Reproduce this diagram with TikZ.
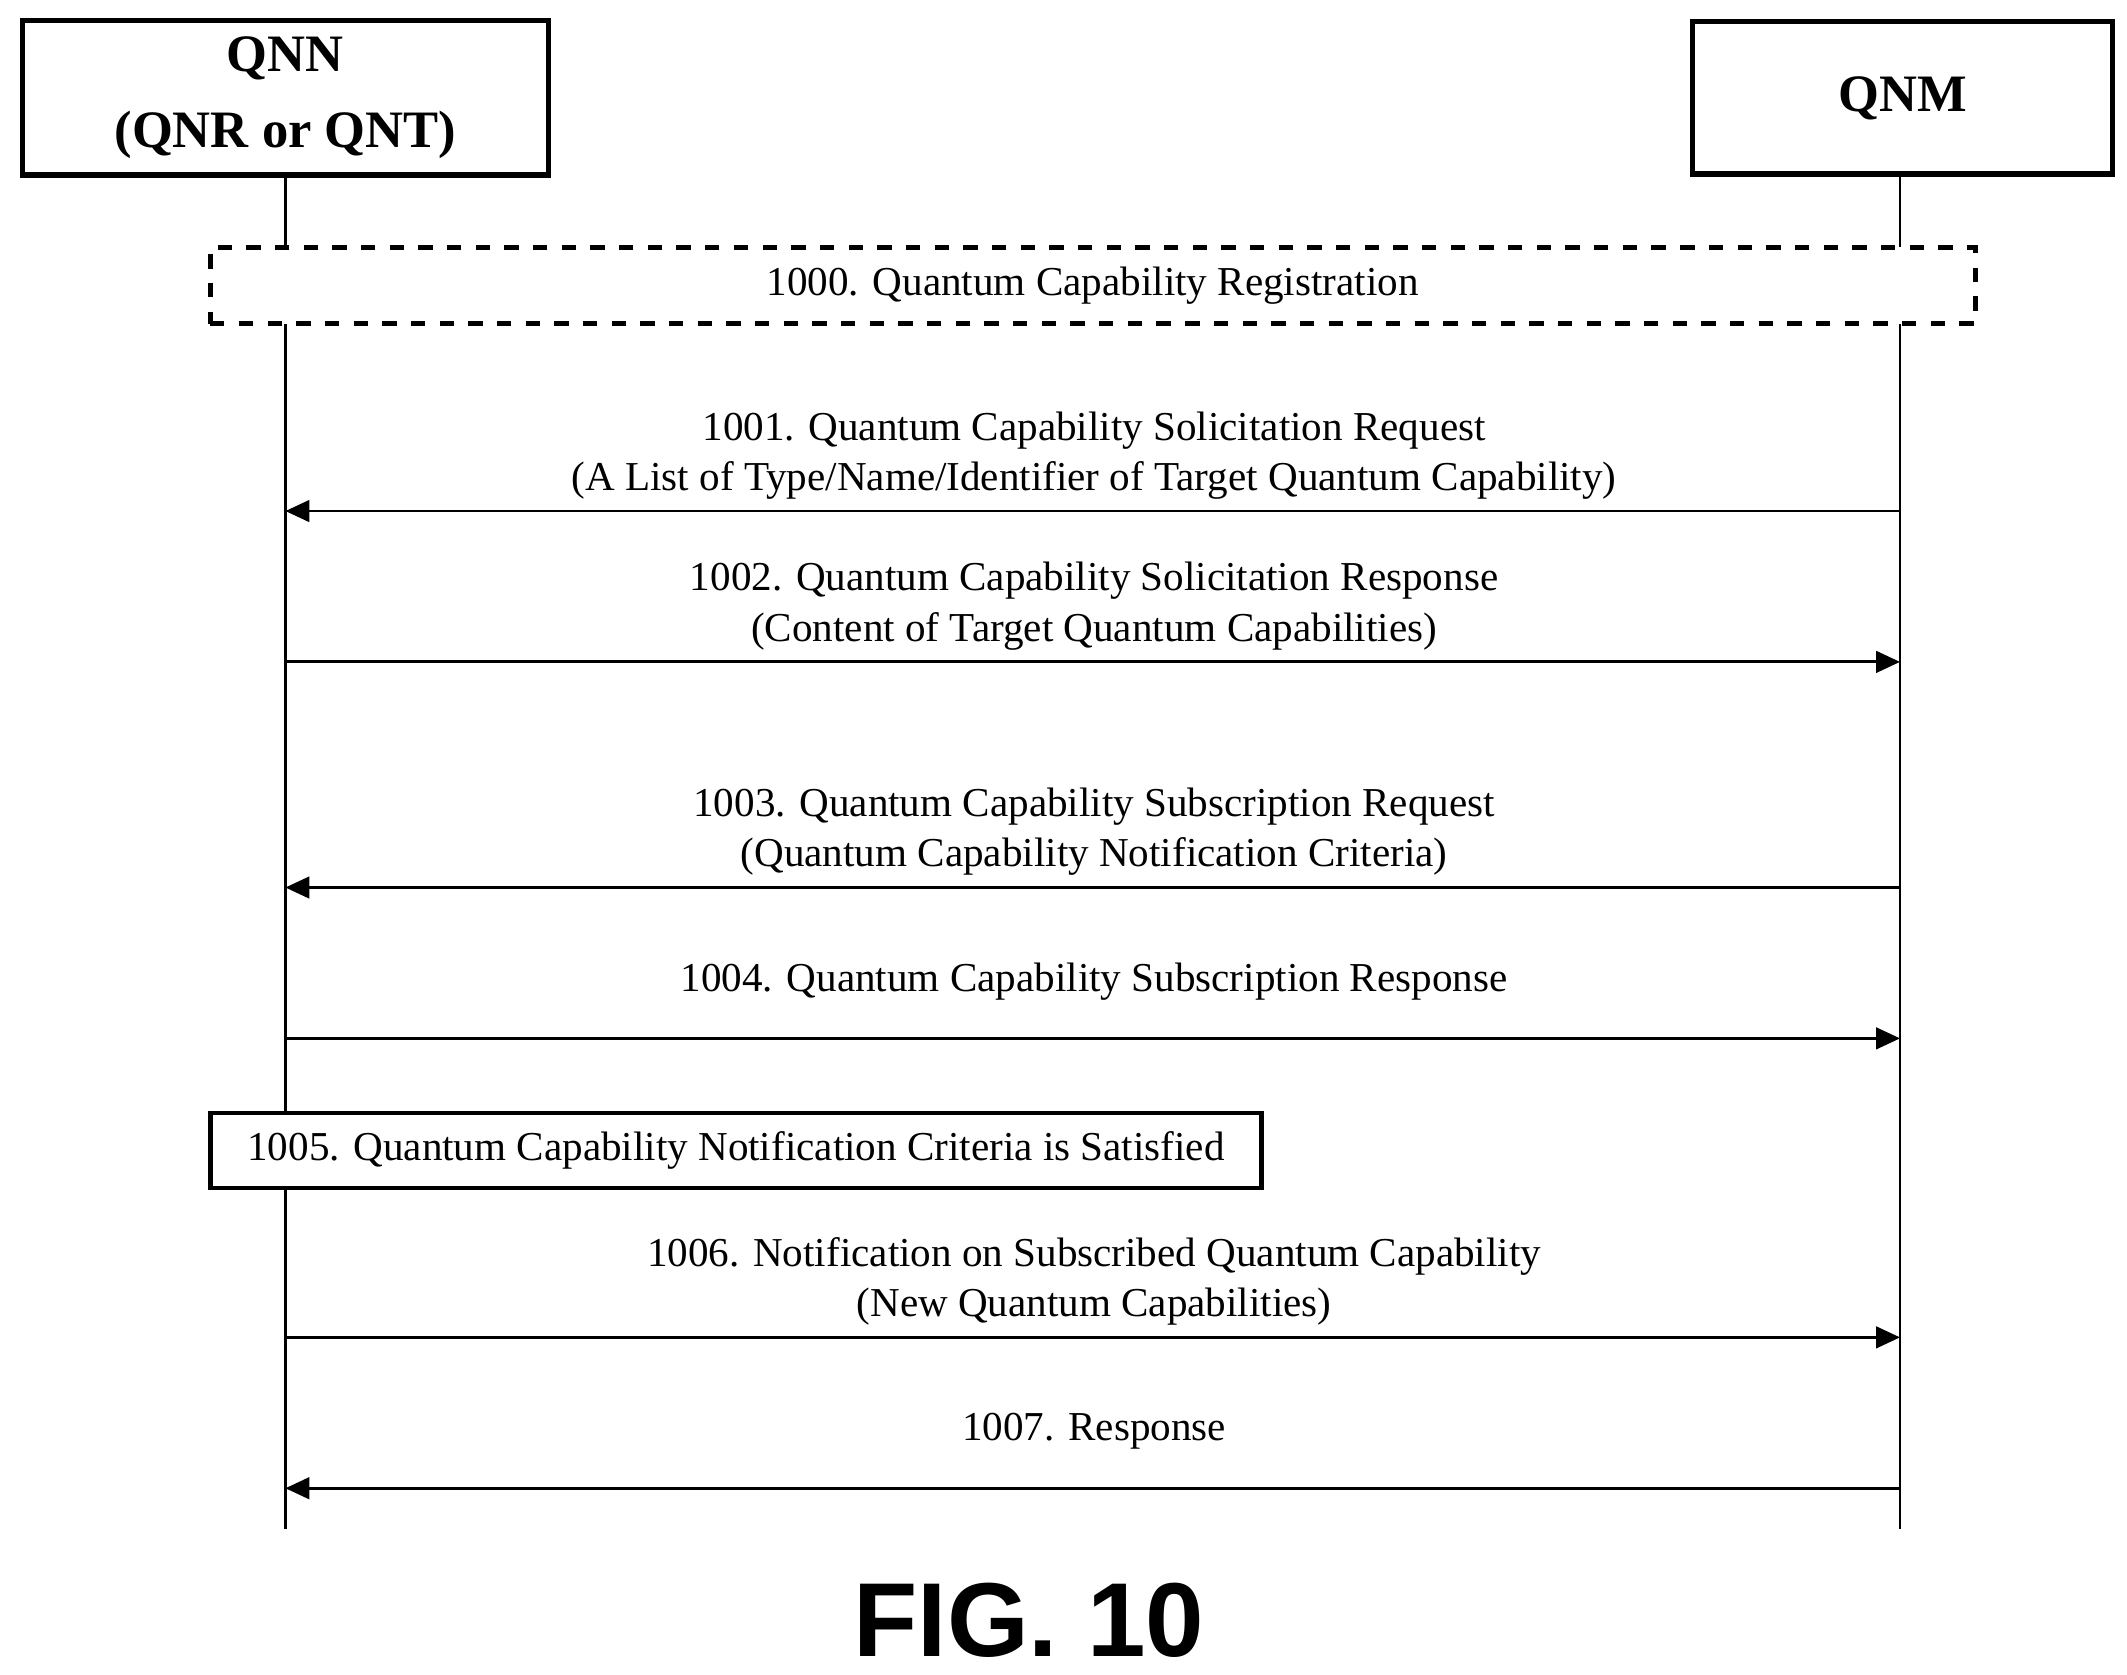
\documentclass[tikz,border=0pt]{standalone}
\usepackage{fontspec}
\setmainfont{Liberation Serif}
\newfontfamily\figfont{Liberation Sans}
\usetikzlibrary{arrows.meta}
\begin{document}
\begin{tikzpicture}[x=0.01cm,y=-0.01cm,
  ent/.style={draw,line width=1.1pt,minimum width=3.87cm,minimum height=1.12cm,align=center,font=\fontsize{11}{14}\selectfont\bfseries},
  msg/.style={-{Triangle[length=5pt,width=4.5pt]},line width=0.6pt},
  lbl/.style={font=\fontsize{8.6}{10.5}\selectfont,align=center}]
\useasboundingbox (0,0) rectangle (1565,1232);
\node[ent] (qnn) at (210,72) {QNN\\[2pt](QNR or QNT)};
\node[ent,minimum width=3.09cm] (qnm) at (1400,72) {QNM};
% lifelines
\coordinate (qnnTop) at (210,1125);
\coordinate (qnmTop) at (1398,1125);
\draw[line width=0.6pt] (qnn.south) -- (qnnTop);
\draw[line width=0.6pt] (qnm.south -| qnmTop) -- (qnmTop);
\node[draw,dashed,line width=1pt,fill=white,minimum width=12.98cm,minimum height=0.56cm,lbl] (reg) at (804,210) {1000. Quantum Capability Registration};
% messages
\foreach \n/\y/\dir in {a/376/l,b/487/r,c/653/l,d/764/r,e/984/r,f/1095/l}{
  \coordinate (L\n) at (210,\y);
  \coordinate (R\n) at (1398,\y);
}
\draw[msg] (Ra) -- (La);
\node[lbl] (ta) at (805,335) {1001. Quantum Capability Solicitation Request\\(A List of Type/Name/Identifier of Target Quantum Capability)};
\draw[msg] (Lb) -- (Rb);
\node[lbl] (tb) at (805,446) {1002. Quantum Capability Solicitation Response\\(Content of Target Quantum Capabilities)};
\draw[msg] (Rc) -- (Lc);
\node[lbl] (tc) at (805,612) {1003. Quantum Capability Subscription Request\\(Quantum Capability Notification Criteria)};
\draw[msg] (Ld) -- (Rd);
\node[lbl] (td) at (805,722) {1004. Quantum Capability Subscription Response};
\node[draw,line width=1pt,fill=white,minimum width=7.73cm,minimum height=0.55cm,lbl] (sat) at (541.5,846.5) {1005. Quantum Capability Notification Criteria is Satisfied};
\draw[msg] (Le) -- (Re);
\node[lbl] (te) at (805,943) {1006. Notification on Subscribed Quantum Capability\\(New Quantum Capabilities)};
\draw[msg] (Rf) -- (Lf);
\node[lbl] (tf) at (805,1053) {1007. Response};
\node[font=\figfont\fontsize{22}{26}\selectfont\bfseries] (fig) at (757,1192) {FIG. 10};
\end{tikzpicture}
\end{document}
